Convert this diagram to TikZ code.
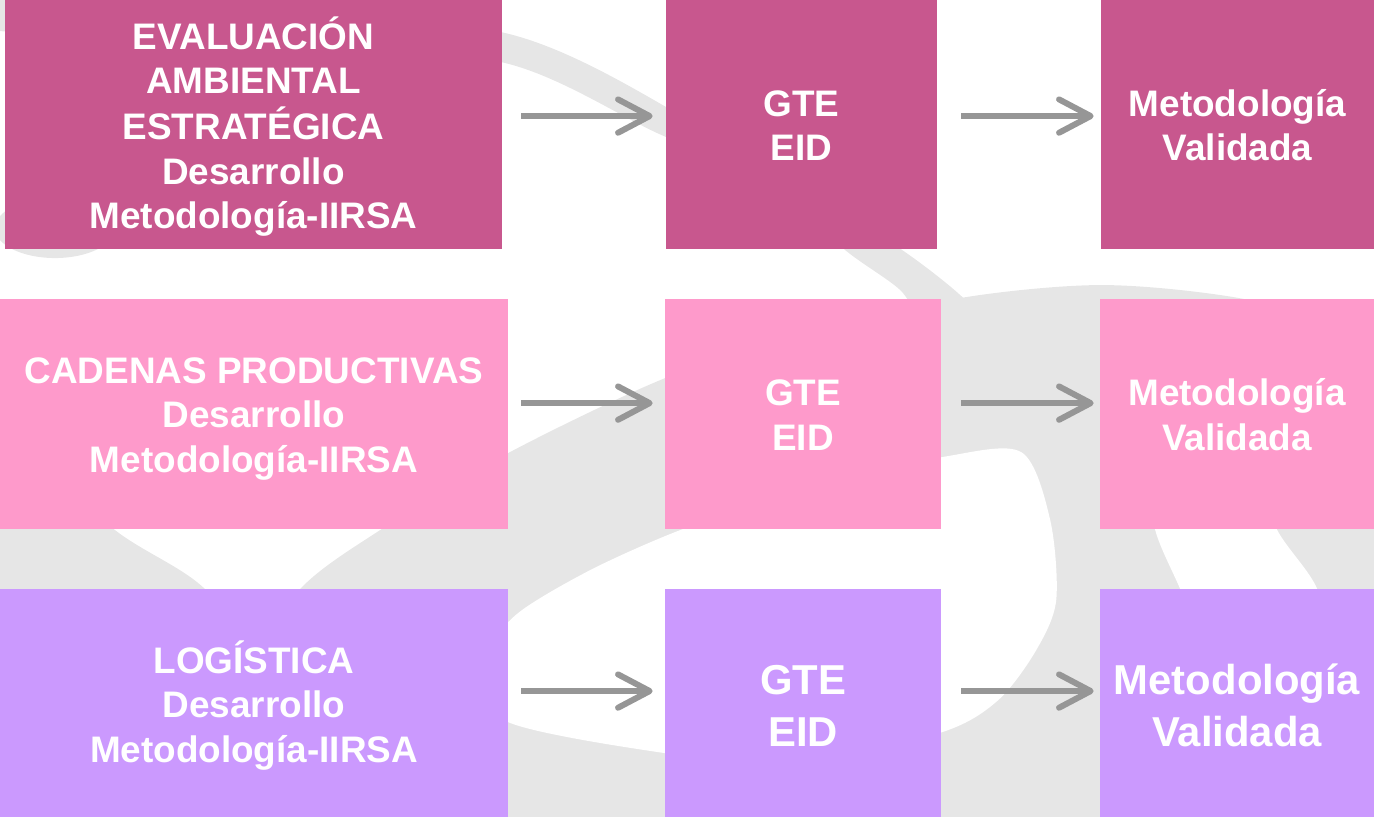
\documentclass[tikz,border=0pt]{standalone}
\usepackage{fontspec}
\setmainfont{Liberation Sans}
\usepackage{xcolor}
\usetikzlibrary{arrows.meta}

\definecolor{plum}{HTML}{C8578E}
\definecolor{rosa}{HTML}{FE9ACB}
\definecolor{lila}{HTML}{CB99FE}
\definecolor{flecha}{HTML}{969696}
\definecolor{marca}{HTML}{E6E6E6}

% centred lines, set a little below the middle of the box
\newcommand{\texto}[2][2.8pt]{\raisebox{-#1}[\height][\depth]{\begin{tabular}{c} #2 \end{tabular}}}

\tikzset{
    caja/.style={rectangle, inner sep=0pt, text=white, font=\fontsize{21}{25.3}\selectfont\bfseries},
    grande/.style={font=\fontsize{23.8}{29.4}\selectfont\bfseries},
    flujo/.style={draw=flecha, line width=3.4pt, -{Straight Barb[length=18pt, width=19pt, round]}},
}

\begin{document}
\begin{tikzpicture}
    \useasboundingbox (0,0) rectangle (27.48,-16.34);

    % watermark behind the boxes
    \begin{scope}[x=0.02cm, y=-0.02cm]
        \fill [marca] plot [smooth cycle] coordinates {(-10,-5) (250,10) (505,33) (666,107) (780,190) (845,250) (900,290) (930,330) (990,330) (960,295) (902,250) (800,185) (666,137) (505,63) (250,35) (-10,30)};
        \fill [marca] plot [smooth] coordinates {(150,817) (240,680) (300,589) (380,530) (508,453) (665,378) (800,335) (960,298) (1100,285) (1233,297) (1374,330)} -- (1374,817) -- cycle;
        \fill [white] plot [smooth cycle] coordinates {(470,670) (508,622) (540,598) (600,565) (680,530) (800,488) (942,457) (1021,452) (1050,520) (1056,600) (1036,650) (998,700) (942,732) (800,765) (665,753) (508,722)};
        \fill [white] plot [smooth cycle] coordinates {(1145,460) (1155,530) (1180,589) (1210,660) (1330,660) (1317,589) (1277,530) (1250,460)};
        \fill [marca] plot [smooth] coordinates {(0,430) (115,530) (205,589) (280,690)} -- (0,690) -- cycle;
        \fill [marca] (55,228) ellipse [x radius=60, y radius=30];
    \end{scope}

    \node (eae) at (5.07,-2.49) [caja, fill=plum, minimum width=9.94cm, minimum height=4.98cm] {\texto{EVALUACIÓN \\ AMBIENTAL \\ ESTRATÉGICA \\ Desarrollo \\ Metodología-IIRSA}};
    \node (gte_eae) at (16.03,-2.49) [caja, fill=plum, minimum width=5.42cm, minimum height=4.98cm] {\texto{GTE \\ EID}};
    \node (val_eae) at (24.75,-2.49) [caja, fill=plum, minimum width=5.46cm, minimum height=4.98cm] {\texto{Metodología \\ Validada}};

    \node (cadenas) at (5.08,-8.28) [caja, fill=rosa, minimum width=10.16cm, minimum height=4.6cm] {\texto{CADENAS PRODUCTIVAS \\ Desarrollo \\ Metodología-IIRSA}};
    \node (gte_cad) at (16.06,-8.28) [caja, fill=rosa, minimum width=5.52cm, minimum height=4.6cm] {\texto{GTE \\ EID}};
    \node (val_cad) at (24.74,-8.28) [caja, fill=rosa, minimum width=5.48cm, minimum height=4.6cm] {\texto{Metodología \\ Validada}};

    \node (logistica) at (5.08,-14.06) [caja, fill=lila, minimum width=10.16cm, minimum height=4.56cm] {\texto{LOGÍSTICA \\ Desarrollo \\ Metodología-IIRSA}};
    \node (gte_log) at (16.06,-14.06) [caja, grande, fill=lila, minimum width=5.52cm, minimum height=4.56cm] {\texto[4pt]{GTE \\ EID}};
    \node (val_log) at (24.74,-14.06) [caja, grande, fill=lila, minimum width=5.48cm, minimum height=4.56cm] {\texto[4pt]{Metodología \\ Validada}};

    \draw [flujo, shorten <=0.38cm, shorten >=0.26cm] ([yshift=4.8pt]eae.east) -- ([yshift=4.8pt]gte_eae.west);
    \draw [flujo, shorten <=0.48cm, shorten >=0.14cm] ([yshift=4.8pt]gte_eae.east) -- ([yshift=4.8pt]val_eae.west);

    \draw [flujo, shorten <=0.26cm, shorten >=0.24cm] ([yshift=6.2pt]cadenas.east) -- ([yshift=6.2pt]gte_cad.west);
    \draw [flujo, shorten <=0.40cm, shorten >=0.12cm] ([yshift=6.2pt]gte_cad.east) -- ([yshift=6.2pt]val_cad.west);

    \draw [flujo, shorten <=0.26cm, shorten >=0.24cm] ([yshift=6.8pt]logistica.east) -- ([yshift=6.8pt]gte_log.west);
    \draw [flujo, shorten <=0.40cm, shorten >=0.12cm] ([yshift=6.8pt]gte_log.east) -- ([yshift=6.8pt]val_log.west);
\end{tikzpicture}
\end{document}
